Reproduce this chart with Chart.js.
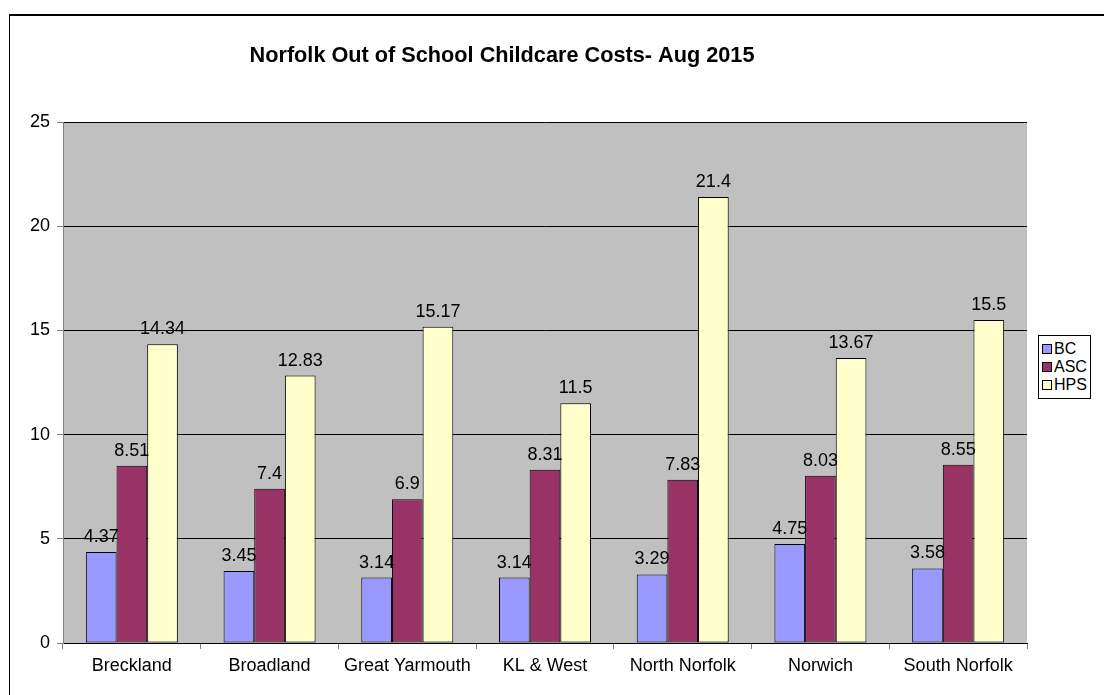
<!DOCTYPE html>
<html>
<head>
<meta charset="utf-8">
<script src="https://cdn.jsdelivr.net/npm/chart.js@4"></script>
<style>
  html, body { margin: 0; padding: 0; background: #fff; overflow: hidden; }
  body { width: 1104px; height: 695px; position: relative; font-family: "Liberation Sans", Arial, sans-serif; }
  #frame { position: absolute; left: 9px; top: 14px; width: 1200px; height: 800px; border-left: 1px solid #000; border-top: 2px solid #000; }
  #chart { position: absolute; left: 0; top: 0; }
  #legend { position: absolute; left: 1038px; top: 335px; background: #fff; border: 1px solid #000; padding: 4px 3px 4px 3px; font-size: 16px; line-height: 18px; }
  #legend .item { display: flex; align-items: center; }
  #legend .sw { width: 8px; height: 8px; border: 1px solid #000; margin-right: 2px; }
</style>
</head>
<body>
<div id="frame"></div>
<canvas id="chart" width="1104" height="695"></canvas>
<div id="legend"></div>
<script>
// ==================== DATA ====================
const categories = ['Breckland', 'Broadland', 'Great Yarmouth', 'KL & West', 'North Norfolk', 'Norwich', 'South Norfolk'];
const bcValues = [4.37, 3.45, 3.14, 3.14, 3.29, 4.75, 3.58];
const ascValues = [8.51, 7.4, 6.9, 8.31, 7.83, 8.03, 8.55];
const hpsValues = [14.34, 12.83, 15.17, 11.5, 21.4, 13.67, 15.5];
const yTicks = [0, 5, 10, 15, 20, 25];

const titleText = 'Norfolk Out of School Childcare Costs- Aug 2015';
const FONT = '"Liberation Sans", Arial, sans-serif';

const series = [
  { label: 'BC', data: bcValues, color: '#9999FF' },
  { label: 'ASC', data: ascValues, color: '#993366' },
  { label: 'HPS', data: hpsValues, color: '#FFFFCC' },
];

// grey plot background + title
const bgPlugin = {
  id: 'bg',
  beforeDraw(chart) {
    const { ctx, chartArea: a } = chart;
    ctx.save();
    ctx.fillStyle = '#C0C0C0';
    ctx.fillRect(a.left, a.top, a.right - a.left, a.bottom - a.top);
    ctx.fillStyle = '#000';
    ctx.font = 'bold 21.7px ' + FONT;
    ctx.textAlign = 'center';
    ctx.textBaseline = 'middle';
    ctx.fillText(titleText, 502, 56);
    ctx.restore();
  },
};

// value labels above bars
const labelPlugin = {
  id: 'vals',
  afterDatasetsDraw(chart) {
    const ctx = chart.ctx;
    ctx.save();
    ctx.fillStyle = '#000';
    ctx.font = '18px ' + FONT;
    ctx.textAlign = 'center';
    ctx.textBaseline = 'alphabetic';
    chart.data.datasets.forEach((ds, i) => {
      chart.getDatasetMeta(i).data.forEach((el, j) => {
        ctx.fillText(String(ds.data[j]), el.x, el.y - 10);
      });
    });
    ctx.restore();
  },
};

new Chart(document.getElementById('chart').getContext('2d'), {
  type: 'bar',
  data: {
    labels: categories,
    datasets: series.map((s) => ({
      label: s.label,
      data: s.data,
      backgroundColor: s.color,
      borderColor: '#000',
      borderWidth: 1,
      borderSkipped: false,
      categoryPercentage: 0.668,
      barPercentage: 1,
    })),
  },
  options: {
    responsive: false,
    animation: false,
    events: [],
    layout: { padding: { top: 122, right: 77, left: 0, bottom: 0 } },
    plugins: { legend: { display: false }, title: { display: false }, tooltip: { enabled: false } },
    scales: {
      x: {
        afterFit: (s) => { s.height = 52; },
        grid: { offset: true, drawOnChartArea: false, tickLength: 6, color: '#808080' },
        border: { color: '#000' },
        ticks: { color: '#000', font: { family: FONT, size: 18 }, padding: 6, maxRotation: 0 },
      },
      y: {
        min: 0,
        max: 25,
        afterFit: (s) => { s.width = 63; },
        afterBuildTicks: (s) => { s.ticks = yTicks.map((v) => ({ value: v })); },
        grid: { color: '#000', tickLength: 6, tickColor: '#808080' },
        border: { color: '#808080' },
        ticks: { color: '#000', font: { family: FONT, size: 18 }, padding: 7 },
      },
    },
  },
  plugins: [bgPlugin, labelPlugin],
});

// legend
document.getElementById('legend').innerHTML = series
  .map((s) => `<div class="item"><span class="sw" style="background:${s.color}"></span>${s.label}</div>`)
  .join('');
</script>
</body>
</html>
